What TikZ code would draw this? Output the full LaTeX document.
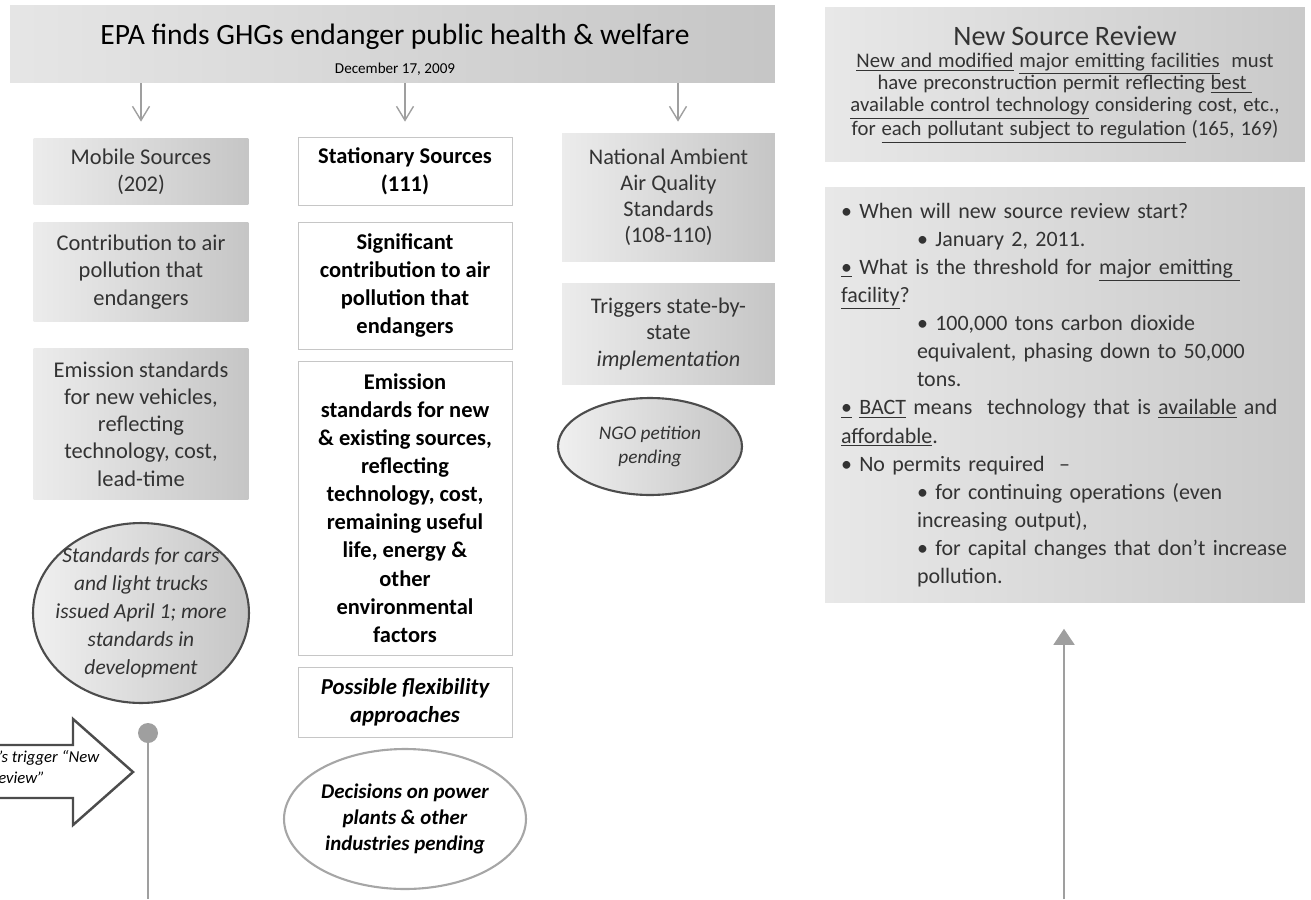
\documentclass[tikz,border=0pt]{standalone}
\usepackage{fontspec}
\setmainfont{Carlito}
\usetikzlibrary{arrows.meta,positioning,shapes.geometric,calc}

\newcommand{\uln}[1]{\underline{#1}}

\begin{document}
\begin{tikzpicture}[x=0.02cm, y=-0.02cm,
  gblk/.style={left color=gray!15, right color=gray!45, text=black!80, align=center, inner sep=2pt, minimum width=4.3cm, font=\fontsize{12.8}{15.5}\selectfont},
  wblk/.style={draw=gray!45, fill=white, align=center, inner sep=2pt, minimum width=4.28cm, font=\fontsize{12.8}{16}\selectfont\bfseries},
  gell/.style={ellipse, draw=gray!60!black, line width=1.2pt, left color=gray!12, right color=gray!45, align=center, inner sep=0pt, text=black!80, font=\fontsize{12.2}{16}\selectfont\itshape},
  well/.style={ellipse, draw=gray!70, line width=1.2pt, fill=white, align=center, inner sep=0pt, font=\fontsize{11.9}{14.6}\selectfont\bfseries\itshape},
  garr/.style={draw=gray!75, line width=0.8pt, -{Straight Barb[length=0.28cm, width=0.34cm]}},
  uarr/.style={draw=gray!75, line width=1pt, -{Triangle[length=0.32cm, width=0.42cm]}}]
\useasboundingbox (0,0) rectangle (1311,899);
% ---------------- endangerment finding (top) ----------------
\node[left color=gray!20, right color=gray!45, minimum width=15.3cm, minimum height=1.56cm, inner sep=0pt] (hdr) at (392.5,44) {};
\node[font=\fontsize{16.8}{20}\selectfont, inner sep=0pt] (hdrttl) at (395,37) {EPA finds GHGs endanger public health \& welfare};
\node[font=\fontsize{8.6}{10}\selectfont, inner sep=0pt] (hdrdate) at (395,69) {December 17, 2009};
% ---------------- mobile sources (left column) ----------------
\node[gblk, minimum height=1.34cm] (mob)  at (141,171.5) {Mobile Sources\\(202)};
\node[gblk, minimum height=2.0cm]  (mcon) at (141,272) {Contribution to air\\pollution that\\endangers};
\node[gblk, minimum height=3.04cm] (mem)  at (141,424) {Emission standards\\for new vehicles,\\reflecting\\technology, cost,\\lead-time};
\node[gell, inner xsep=-0.4cm, inner ysep=-0.2cm, minimum width=4.32cm, minimum height=3.6cm] (mell) at (141,613) {Standards for cars\\and light trucks\\issued April 1; more\\standards in\\development};
% ---------------- stationary sources (middle column) ----------------
\node[wblk, minimum height=1.36cm] (sta)   at (405,171) {Stationary Sources\\(111)};
\node[wblk, minimum height=2.54cm] (ssig)  at (405,285.5) {Significant\\contribution to air\\pollution that\\endangers};
\node[wblk, minimum height=5.88cm] (sem)   at (405,508) {Emission\\standards for new\\\& existing sources,\\reflecting\\technology, cost,\\remaining useful\\life, energy \&\\other\\environmental\\factors};
\node[wblk, minimum height=1.4cm, font=\fontsize{13}{16}\selectfont\bfseries\itshape] (sflex) at (405,702) {Possible flexibility\\approaches};
\node[well, minimum width=4.84cm, minimum height=2.8cm] (sell) at (405,819) {Decisions on power\\plants \& other\\industries pending};
% ---------------- ambient standards (right column) ----------------
\node[gblk, minimum width=4.26cm, minimum height=2.58cm, font=\fontsize{12.7}{14.9}\selectfont] (nq)  at (668.5,197.5) {National Ambient\\Air Quality\\Standards\\(108-110)};
\node[gblk, minimum width=4.26cm, minimum height=2.04cm, font=\fontsize{12.7}{14.9}\selectfont] (ntr) at (668.5,334) {Triggers state-by-\\state\\\textit{implementation}};
\node[gell, minimum width=3.68cm, minimum height=1.94cm, font=\fontsize{11}{13.5}\selectfont\itshape] (nell) at (650,446.5) {NGO petition\\pending};
% ---------------- new source review (far right) ----------------
\node[left color=gray!18, right color=gray!42, minimum width=9.6cm, minimum height=3.1cm, text width=9.5cm, align=center, inner sep=0pt, text=black!80] (nsr) at (1065,84.5)
  {{\fontsize{16}{20}\selectfont New Source Review\par}
   {\fontsize{11.8}{12.6}\selectfont \uln{New and modified} \uln{major emitting facilities}\ \ must\\
   have preconstruction permit reflecting \uln{best\ }\\
   \uln{available control technology} considering cost, etc.,\\
   for \uln{each pollutant subject to regulation} (165, 169)\par}};
\node[left color=gray!18, right color=gray!42, minimum width=9.6cm, minimum height=8.3cm, text width=8.96cm, align=left, inner sep=0pt, text=black!80, font=\fontsize{12.5}{16}\selectfont] (blt) at (1065,395)
  {• When will new source review start?\\
   \hspace*{1.52cm}• January 2, 2011.\\
   \uln{•} What is the threshold for \uln{major emitting\ }\\
   \uln{facility}?\\
   \hspace*{1.52cm}• 100,000 tons carbon dioxide\\
   \hspace*{1.52cm}equivalent, phasing down to 50,000\\
   \hspace*{1.52cm}tons.\\
   \uln{•} \uln{BACT} means\ \ technology that is \uln{available} and\\
   \uln{affordable}.\\
   • No permits required\ \ –\\
   \hspace*{1.52cm}• for continuing operations (even\\
   \hspace*{1.52cm}increasing output),\\
   \hspace*{1.52cm}• for capital changes that don’t increase\\
   \hspace*{1.52cm}pollution.};
% ---------------- trigger arrow and markers ----------------
\draw[draw=gray!60!black, line width=1.4pt, fill=white] (-40,745) -- (73,745) -- (73,719) -- (133,772) -- (73,825) -- (73,798) -- (-40,798) -- cycle;
\node[anchor=west, align=left, inner sep=0pt, font=\fontsize{9.5}{12}\selectfont\itshape] (trg) at (-2,767) {’s trigger “New\\eview”};
\node[circle, fill=gray!75, minimum size=0.4cm, inner sep=0pt] (dot) at (148,733) {};
\coordinate (dotfoot) at (148,899);
\coordinate (nsrfoot) at (1064,899);
% ---------------- connections ----------------
\draw[garr, shorten >=0.32cm] (hdr.south -| mob.north) -- (mob.north);
\draw[garr, shorten >=0.30cm] (hdr.south -| sta.north) -- (sta.north);
\draw[garr, shorten >=0.22cm] ([xshift=0.19cm]hdr.south -| nq.north) -- ([xshift=0.19cm]nq.north);
\draw[draw=gray!75, line width=1pt] (dot) -- (dotfoot);
\draw[uarr, shorten >=0.52cm] (nsrfoot) -- (nsrfoot |- blt.south);
\end{tikzpicture}
\end{document}
